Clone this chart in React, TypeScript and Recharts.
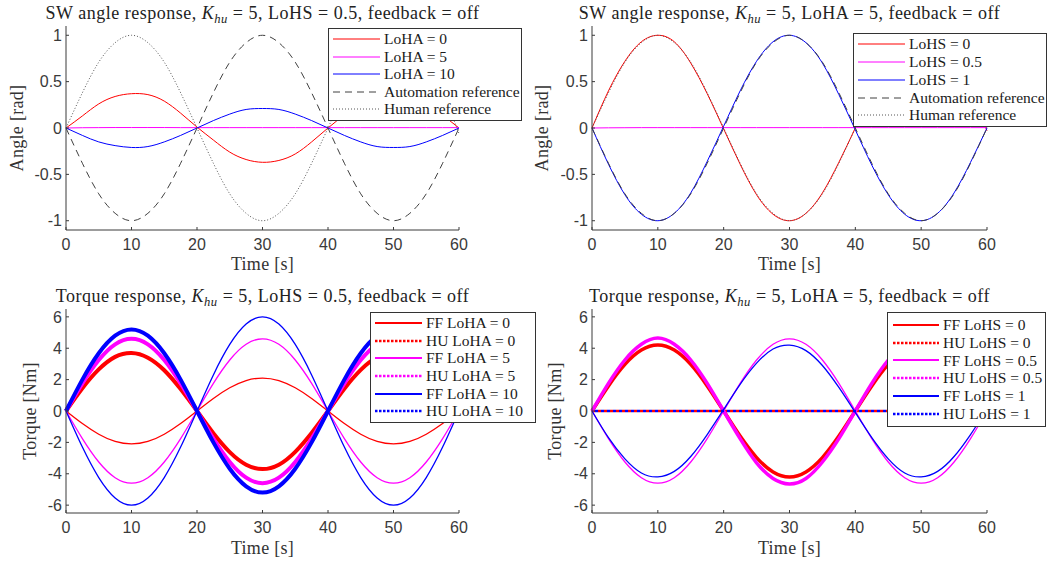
import React from 'react';
import { LineChart, Line, XAxis, YAxis, Legend } from 'recharts';

// time samples [s]
const TIME = [0, 2.5, 5, 7.5, 10, 12.5, 15, 17.5, 20, 22.5, 25, 27.5, 30, 32.5, 35, 37.5, 40, 42.5, 45, 47.5, 50, 52.5, 55, 57.5, 60];

const X_TICKS = [0, 10, 20, 30, 40, 50, 60];
const ANGLE_TICKS = [-1, -0.5, 0, 0.5, 1];
const TORQUE_TICKS = [-6, -4, -2, 0, 2, 4, 6];

// SW angle, LoHS = 0.5
const tlLoHA0 = [0, 0.13, 0.26, 0.34, 0.37, 0.36, 0.29, 0.16, 0.01, -0.13, -0.26, -0.34, -0.37, -0.35, -0.28, -0.15, 0, 0.14, 0.26, 0.34, 0.37, 0.35, 0.27, 0.14, 0];
const tlLoHA5 = [0, 0.003, 0.004, 0.005, 0.005, 0.005, 0.005, 0.004, 0.004, 0.004, 0.004, 0.004, 0.004, 0.004, 0.004, 0.004, 0.004, 0.004, 0.004, 0.004, 0.004, 0.004, 0.004, 0.004, 0.004];
const tlLoHA10 = [0, -0.08, -0.15, -0.19, -0.21, -0.2, -0.15, -0.08, 0, 0.08, 0.15, 0.2, 0.21, 0.2, 0.15, 0.08, 0, -0.08, -0.15, -0.2, -0.21, -0.2, -0.15, -0.08, 0];
const tlAuto = [0, -0.38, -0.71, -0.92, -1, -0.92, -0.71, -0.38, 0, 0.38, 0.71, 0.92, 1, 0.92, 0.71, 0.38, 0, -0.38, -0.71, -0.92, -1, -0.92, -0.71, -0.38, 0];
const tlHuman = [0, 0.38, 0.71, 0.92, 1, 0.92, 0.71, 0.38, 0, -0.38, -0.71, -0.92, -1, -0.92, -0.71, -0.38, 0, 0.38, 0.71, 0.92, 1, 0.92, 0.71, 0.38, -0.06];

// SW angle, LoHA = 5
const trLoHS0 = [0, 0.4, 0.72, 0.93, 1, 0.93, 0.7, 0.37, -0.01, -0.39, -0.72, -0.93, -1, -0.92, -0.7, -0.37, 0, 0.38, 0.71, 0.92, 1, 0.92, 0.7, 0.37, -0.03];
const trLoHS05 = [0, 0.002, 0.003, 0.004, 0.004, 0.004, 0.004, 0.004, 0.004, 0.004, 0.004, 0.004, 0.004, 0.004, 0.004, 0.004, 0.004, 0.004, 0.004, 0.004, 0.004, 0.004, 0.004, 0.004, 0.004];
const trLoHS1 = [0, -0.39, -0.72, -0.93, -1, -0.92, -0.7, -0.36, 0.02, 0.4, 0.72, 0.93, 1, 0.92, 0.7, 0.36, -0.02, -0.4, -0.72, -0.93, -1, -0.92, -0.7, -0.37, 0];
const trAuto = [0, -0.38, -0.71, -0.92, -1, -0.92, -0.71, -0.38, 0, 0.38, 0.71, 0.92, 1, 0.92, 0.71, 0.38, 0, -0.38, -0.71, -0.92, -1, -0.92, -0.71, -0.38, 0];
const trHuman = [0, 0.38, 0.71, 0.92, 1, 0.92, 0.71, 0.38, 0, -0.38, -0.71, -0.92, -1, -0.92, -0.71, -0.38, 0, 0.38, 0.71, 0.92, 1, 0.92, 0.71, 0.38, 0];

// torque, LoHS = 0.5
const blFF0 = [0, -0.8, -1.48, -1.94, -2.1, -1.94, -1.48, -0.8, 0, 0.8, 1.48, 1.94, 2.1, 1.94, 1.48, 0.8, 0, -0.8, -1.48, -1.94, -2.1, -1.94, -1.48, -0.8, 0];
const blHU0 = [0, 1.45, 2.65, 3.45, 3.7, 3.4, 2.6, 1.4, 0, -1.42, -2.62, -3.42, -3.7, -3.42, -2.6, -1.4, 0, 1.42, 2.62, 3.42, 3.7, 3.42, 2.6, 1.4, 0];
const blFF5 = [0, -1.76, -3.25, -4.25, -4.6, -4.25, -3.25, -1.76, 0, 1.76, 3.25, 4.25, 4.6, 4.25, 3.25, 1.76, 0, -1.76, -3.25, -4.25, -4.6, -4.25, -3.25, -1.76, 0];
const blHU5 = [0, 1.76, 3.25, 4.25, 4.6, 4.25, 3.25, 1.76, 0, -1.76, -3.25, -4.25, -4.6, -4.25, -3.25, -1.76, 0, 1.76, 3.25, 4.25, 4.6, 4.25, 3.25, 1.76, 0];
const blFF10 = [0, -2.3, -4.24, -5.54, -6, -5.54, -4.24, -2.3, 0, 2.3, 4.24, 5.54, 6, 5.54, 4.24, 2.3, 0, -2.3, -4.24, -5.54, -6, -5.54, -4.24, -2.3, 0];
const blHU10 = [0, 2, 3.68, 4.8, 5.2, 4.8, 3.68, 2, 0, -2, -3.68, -4.8, -5.2, -4.8, -3.68, -2, 0, 2, 3.68, 4.8, 5.2, 4.8, 3.68, 2, 0];

// torque, LoHA = 5
const brFF0 = [0, 1.6, 2.97, 3.88, 4.2, 3.88, 2.97, 1.6, 0, -1.6, -2.97, -3.88, -4.2, -3.88, -2.97, -1.6, 0, 1.6, 2.97, 3.88, 4.2, 3.88, 2.97, 1.6, 0];
const brHU0 = [0, 0, 0, 0, 0, 0, 0, 0, 0, 0, 0, 0, 0, 0, 0, 0, 0, 0, 0, 0, 0, 0, 0, 0, 0];
const brFF05 = [0, -1.76, -3.25, -4.25, -4.6, -4.25, -3.25, -1.76, 0, 1.76, 3.25, 4.25, 4.6, 4.25, 3.25, 1.76, 0, -1.76, -3.25, -4.25, -4.6, -4.25, -3.25, -1.76, 0];
const brHU05 = [0, 1.76, 3.25, 4.25, 4.65, 4.25, 3.25, 1.76, 0, -1.76, -3.3, -4.3, -4.65, -4.3, -3.25, -1.76, 0, 1.76, 3.25, 4.25, 4.6, 4.25, 3.25, 1.76, 0];
const brFF1 = [0, -1.7, -3.05, -3.95, -4.2, -3.85, -2.9, -1.5, 0.1, 1.7, 3.05, 3.95, 4.2, 3.85, 2.9, 1.5, -0.1, -1.7, -3.05, -3.95, -4.2, -3.85, -2.9, -1.5, 0.1];
const brHU1 = [0, 0, 0, 0, 0, 0, 0, 0, 0, 0, 0, 0, 0, 0, 0, 0, 0, 0, 0, 0, 0, 0, 0, 0, 0];

const SERIF = '"Liberation Serif", "Times New Roman", serif';
const SANS = '"Liberation Sans", Arial, sans-serif';
const AXIS = '#3a3a3a';
const RED = '#ff0000';
const MAG = '#ff00ff';
const BLUE = '#0000ff';

type Series = {
  key: string;
  name: string;
  data: number[];
  color: string;
  width: number;
  dash?: string;
  offset?: number;
  legendWidth: number;
  legendDash?: string;
};

type LegendBox = { left: number; top: number; width: number; padTop: number; padLeft: number; rowH: number; lineLen: number };

type PanelProps = {
  left: number;
  top: number;
  width: number;
  height: number;
  margin: { top: number; right: number; left: number; bottom: number };
  yDomain: [number, number];
  yTicks: number[];
  series: Series[];
  legend: LegendBox;
  title: React.ReactNode;
  titleY: number;
  ylabel: string;
  ylabelX: number;
  xlabelY: number;
};

const Khu = () => (
  <>
    <i>K</i>
    <i style={{ fontSize: '0.7em', position: 'relative', top: '0.3em' }}>hu</i>
  </>
);

const Panel = (p: PanelProps) => {
  const rows = TIME.map((t, i) => {
    const r: Record<string, number> = { t };
    p.series.forEach((s) => (r[s.key] = s.data[i]));
    return r;
  });
  const plotLeft = p.margin.left + 46;
  const plotRight = p.width - p.margin.right;
  const plotTop = p.margin.top;
  const plotBottom = p.height - p.margin.bottom - 40;
  const cx = (plotLeft + plotRight) / 2;
  const cy = (plotTop + plotBottom) / 2;
  const lg = p.legend;

  return (
    <div style={{ position: 'absolute', left: p.left, top: p.top, width: p.width, height: p.height }}>
      <LineChart width={p.width} height={p.height} data={rows} margin={p.margin}>
        <XAxis
          dataKey="t"
          type="number"
          domain={[0, 60]}
          ticks={X_TICKS}
          height={40}
          tickSize={-3}
          tickMargin={12}
          stroke={AXIS}
          tick={{ fill: AXIS, fontSize: 16, fontFamily: SANS }}
        />
        <YAxis
          type="number"
          domain={p.yDomain}
          ticks={p.yTicks}
          width={46}
          allowDataOverflow
          tickSize={-3}
          tickMargin={7}
          stroke={AXIS}
          tick={{ fill: AXIS, fontSize: 16, fontFamily: SANS }}
        />
        {p.series.map((s) => (
          <Line
            key={s.key}
            dataKey={s.key}
            type="natural"
            stroke={s.color}
            strokeWidth={s.width}
            strokeDasharray={s.dash}
            strokeDashoffset={s.offset}
            dot={false}
            activeDot={false}
            isAnimationActive={false}
          />
        ))}
        <Legend
          layout="horizontal"
          verticalAlign="middle"
          align="center"
          wrapperStyle={{ left: lg.left, top: lg.top, width: lg.width, height: 'auto' }}
          content={() => (
            <div
              style={{
                border: '1px solid #333',
                background: '#fff',
                boxSizing: 'border-box',
                width: lg.width,
                padding: `${lg.padTop}px 0 ${lg.padTop}px ${lg.padLeft}px`,
              }}
            >
              {p.series.map((s) => (
                <div key={s.key} style={{ display: 'flex', alignItems: 'center', height: lg.rowH }}>
                  <svg width={lg.lineLen} height={8} style={{ marginRight: 4, flex: 'none' }}>
                    <line
                      x1={0}
                      y1={4}
                      x2={lg.lineLen}
                      y2={4}
                      stroke={s.color}
                      strokeWidth={s.legendWidth}
                      strokeDasharray={s.legendDash}
                    />
                  </svg>
                  <span style={{ fontFamily: SERIF, fontSize: 15.5, color: '#1a1a1a', whiteSpace: 'nowrap' }}>{s.name}</span>
                </div>
              ))}
            </div>
          )}
        />
      </LineChart>
      <div
        style={{
          position: 'absolute',
          left: cx,
          top: p.titleY,
          transform: 'translate(-50%, -50%)',
          fontFamily: SERIF,
          fontSize: 18,
          fontWeight: 400,
          letterSpacing: 0.5,
          color: '#222',
          whiteSpace: 'nowrap',
        }}
      >
        {p.title}
      </div>
      <div
        style={{
          position: 'absolute',
          left: cx,
          top: plotBottom + p.xlabelY,
          transform: 'translate(-50%, -50%)',
          fontFamily: SERIF,
          fontSize: 18,
          fontWeight: 400,
          letterSpacing: 0.3,
          color: '#333',
          whiteSpace: 'nowrap',
        }}
      >
        Time [s]
      </div>
      <div
        style={{
          position: 'absolute',
          left: p.ylabelX,
          top: cy,
          transform: 'translate(-50%, -50%) rotate(-90deg)',
          fontFamily: SERIF,
          fontSize: 18,
          fontWeight: 400,
          letterSpacing: 0.3,
          color: '#333',
          whiteSpace: 'nowrap',
        }}
      >
        {p.ylabel}
      </div>
    </div>
  );
};

const autoStyle = { color: '#404040', width: 1, dash: '7 5', legendWidth: 1, legendDash: '7 5' };
const humanStyle = { color: '#555', width: 1, dash: '1 2', legendWidth: 1, legendDash: '1 2' };

const tlSeries: Series[] = [
  { key: 'a', name: 'LoHA = 0', data: tlLoHA0, color: RED, width: 1, legendWidth: 1 },
  { key: 'b', name: 'LoHA = 5', data: tlLoHA5, color: MAG, width: 1, legendWidth: 1 },
  { key: 'c', name: 'LoHA = 10', data: tlLoHA10, color: BLUE, width: 1, legendWidth: 1 },
  { key: 'd', name: 'Automation reference', data: tlAuto, ...autoStyle },
  { key: 'e', name: 'Human reference', data: tlHuman, ...humanStyle },
];

const trSeries: Series[] = [
  { key: 'a', name: 'LoHS = 0', data: trLoHS0, color: RED, width: 1, legendWidth: 1 },
  { key: 'b', name: 'LoHS = 0.5', data: trLoHS05, color: MAG, width: 1, legendWidth: 1 },
  { key: 'c', name: 'LoHS = 1', data: trLoHS1, color: BLUE, width: 1, legendWidth: 1 },
  { key: 'd', name: 'Automation reference', data: trAuto, ...autoStyle },
  { key: 'e', name: 'Human reference', data: trHuman, ...humanStyle },
];

const blSeries: Series[] = [
  { key: 'a', name: 'FF LoHA = 0', data: blFF0, color: RED, width: 1.3, legendWidth: 2 },
  { key: 'b', name: 'HU LoHA = 0', data: blHU0, color: RED, width: 4, legendWidth: 2.5, legendDash: '2.5 1.5' },
  { key: 'c', name: 'FF LoHA = 5', data: blFF5, color: MAG, width: 1.3, legendWidth: 2 },
  { key: 'd', name: 'HU LoHA = 5', data: blHU5, color: MAG, width: 4, legendWidth: 2.5, legendDash: '2.5 1.5' },
  { key: 'e', name: 'FF LoHA = 10', data: blFF10, color: BLUE, width: 1.3, legendWidth: 2 },
  { key: 'f', name: 'HU LoHA = 10', data: blHU10, color: BLUE, width: 4, legendWidth: 2.5, legendDash: '2.5 1.5' },
];

const brSeries: Series[] = [
  { key: 'a', name: 'FF LoHS = 0', data: brFF0, color: RED, width: 3.5, legendWidth: 2 },
  { key: 'b', name: 'HU LoHS = 0', data: brHU0, color: RED, width: 2.5, dash: '3 3', legendWidth: 2.5, legendDash: '2.5 1.5' },
  { key: 'c', name: 'FF LoHS = 0.5', data: brFF05, color: MAG, width: 1.3, legendWidth: 2 },
  { key: 'd', name: 'HU LoHS = 0.5', data: brHU05, color: MAG, width: 3.5, legendWidth: 2.5, legendDash: '2.5 1.5' },
  { key: 'e', name: 'FF LoHS = 1', data: brFF1, color: BLUE, width: 1.3, legendWidth: 2 },
  { key: 'f', name: 'HU LoHS = 1', data: brHU1, color: BLUE, width: 2.5, dash: '3 3', offset: 3, legendWidth: 2.5, legendDash: '2.5 1.5' },
];

export default function App() {
  return (
    <div style={{ position: 'absolute', left: 0, top: 0, width: 1051, height: 563, background: '#fff', overflow: 'hidden' }}>
      <Panel
        left={0}
        top={0}
        width={530}
        height={280}
        margin={{ top: 26, right: 71, left: 20, bottom: 10 }}
        yDomain={[-1.1, 1.1]}
        yTicks={ANGLE_TICKS}
        series={tlSeries}
        legend={{ left: 328, top: 28, width: 194, padTop: 1.5, padLeft: 4, rowH: 17.5, lineLen: 47 }}
        title={<>SW angle response, <Khu /> = 5, LoHS = 0.5, feedback = off</>}
        titleY={13}
        ylabel="Angle [rad]"
        ylabelX={17}
        xlabelY={34}
      />
      <Panel
        left={525}
        top={0}
        width={526}
        height={280}
        margin={{ top: 26, right: 64, left: 21, bottom: 10 }}
        yDomain={[-1.1, 1.1]}
        yTicks={ANGLE_TICKS}
        series={trSeries}
        legend={{ left: 328, top: 33, width: 194, padTop: 1.5, padLeft: 4, rowH: 17.75, lineLen: 47 }}
        title={<>SW angle response, <Khu /> = 5, LoHA = 5, feedback = off</>}
        titleY={13}
        ylabel="Angle [rad]"
        ylabelX={17}
        xlabelY={34}
      />
      <Panel
        left={0}
        top={280}
        width={530}
        height={283}
        margin={{ top: 29, right: 71, left: 20, bottom: 10 }}
        yDomain={[-6.5, 6.5]}
        yTicks={TORQUE_TICKS}
        series={blSeries}
        legend={{ left: 370, top: 32, width: 166, padTop: 1.5, padLeft: 4, rowH: 17.6, lineLen: 47 }}
        title={<>Torque response, <Khu /> = 5, LoHS = 0.5, feedback = off</>}
        titleY={16}
        ylabel="Torque [Nm]"
        ylabelX={30}
        xlabelY={35}
      />
      <Panel
        left={525}
        top={280}
        width={526}
        height={283}
        margin={{ top: 29, right: 64, left: 21, bottom: 10 }}
        yDomain={[-6.5, 6.5]}
        yTicks={TORQUE_TICKS}
        series={brSeries}
        legend={{ left: 362, top: 32, width: 159, padTop: 3, padLeft: 5, rowH: 17.8, lineLen: 46 }}
        title={<>Torque response, <Khu /> = 5, LoHA = 5, feedback = off</>}
        titleY={16}
        ylabel="Torque [Nm]"
        ylabelX={30}
        xlabelY={35}
      />
    </div>
  );
}
